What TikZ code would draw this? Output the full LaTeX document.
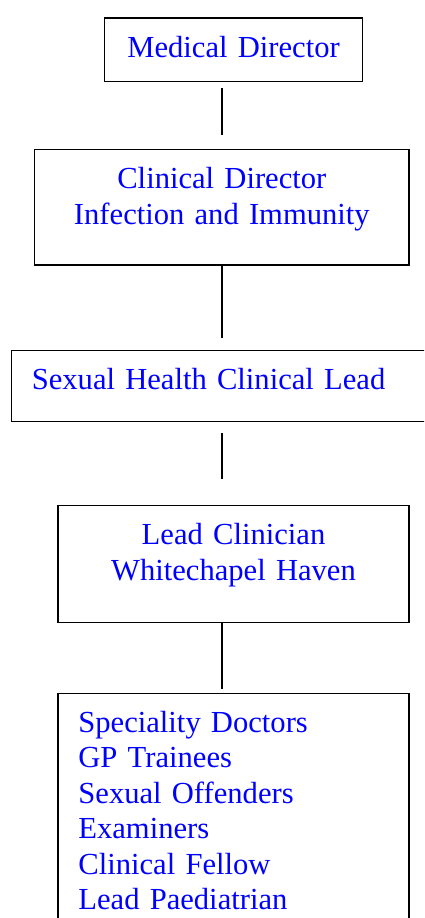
\documentclass[tikz,border=0pt]{standalone}
\usepackage{fontspec}
\setmainfont{Liberation Serif}
\tikzset{
	post/.style={draw, anchor=north west, inner ysep=0pt, text height=39pt, text=blue, font=\fontsize{30.6}{35.4}\selectfont},
	midpost/.style={post, align=center, inner xsep=0pt},
	leftpost/.style={post, align=left, inner xsep=20.4pt}
}
\begin{document}
\begin{tikzpicture}[x=1pt, y=-1pt, line width=1.4pt]
	\clip (0,0) rectangle (424,918);
	\fill[white] (0,0) rectangle (424,918);
	%boxes
	\node[midpost, text width=257.7pt, text depth=24.7pt] (md) at (104,17.3) {Medical Director};
	\node[midpost, text width=374.3pt, text depth=76.3pt] (cd) at (34,149) {Clinical Director\\Infection and Immunity};
	\node[leftpost, text width=380pt, text depth=32pt] (shl) at (10.7,350) {Sexual Health Clinical Lead};
	\node[midpost, text width=351pt, text depth=78pt] (lc) at (57.3,505) {Lead Clinician\\Whitechapel Haven};
	\node[leftpost, text width=310.2pt, text depth=210pt] (staff) at (57.3,692.7) {Speciality Doctors\\GP Trainees\\Sexual Offenders\\Examiners\\Clinical Fellow\\Lead Paediatrian};
	
	%links
	\draw[shorten <=6pt, shorten >=14pt] (md.south -| cd.north) -- (cd.north);
	\draw[shorten >=12pt] (cd.south) -- (cd.south |- shl.north);
	\draw[shorten <=11pt, shorten >=26pt] (cd.south |- shl.south) -- (cd.south |- lc.north);
	\draw[shorten >=4pt] (cd.south |- lc.south) -- (cd.south |- staff.north);
\end{tikzpicture}
\end{document}
